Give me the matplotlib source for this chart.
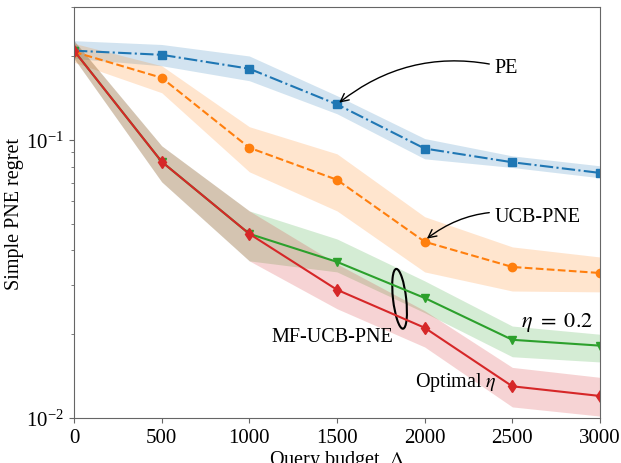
import numpy as np
import matplotlib
matplotlib.use("Agg")
import matplotlib.pyplot as plt
from matplotlib.patches import Ellipse

plt.rcParams['font.family'] = ['Liberation Serif', 'DejaVu Serif']
plt.rcParams['mathtext.fontset'] = 'stix'
plt.rcParams['font.size'] = 14.5

budget = [0, 500, 1000, 1500, 2000, 2500, 3000]

pe = [0.209, 0.202, 0.180, 0.134, 0.093, 0.083, 0.076]
pe_lo = [0.196, 0.1845, 0.163, 0.124, 0.0854, 0.0795, 0.0730]
pe_hi = [0.227, 0.220, 0.200, 0.144, 0.101, 0.0875, 0.0806]

ucb = [0.207, 0.167, 0.0936, 0.0718, 0.0430, 0.0349, 0.0332]
ucb_lo = [0.190, 0.1476, 0.0767, 0.0555, 0.0335, 0.0286, 0.0284]
ucb_hi = [0.222, 0.1845, 0.1114, 0.089, 0.0529, 0.0412, 0.0379]

mf02 = [0.209, 0.0834, 0.0459, 0.0364, 0.0270, 0.0191, 0.0182]
mf02_lo = [0.196, 0.0706, 0.0367, 0.0335, 0.0239, 0.0166, 0.0159]
mf02_hi = [0.227, 0.0951, 0.0555, 0.0440, 0.0311, 0.0214, 0.0200]

mfopt = [0.209, 0.0834, 0.0459, 0.0289, 0.0211, 0.0130, 0.0120]
mfopt_lo = [0.196, 0.0706, 0.0367, 0.0247, 0.0180, 0.01096, 0.01016]
mfopt_hi = [0.227, 0.0951, 0.0555, 0.0358, 0.0243, 0.0152, 0.0140]

fig = plt.figure(figsize=(6.21, 4.64), dpi=100)
ax = fig.add_axes([74 / 621, 45 / 464, 526 / 621, 411 / 464])

ax.fill_between(budget, pe_lo, pe_hi, color='tab:blue', alpha=0.2, lw=0)
ax.plot(budget, pe, '-.', color='tab:blue', marker='s', ms=6)

ax.fill_between(budget, ucb_lo, ucb_hi, color='tab:orange', alpha=0.2, lw=0)
ax.plot(budget, ucb, '--', color='tab:orange', marker='o', ms=6)

ax.fill_between(budget, mf02_lo, mf02_hi, color='tab:green', alpha=0.2, lw=0)
ax.plot(budget, mf02, '-', color='tab:green', marker='v', ms=6)

ax.fill_between(budget, mfopt_lo, mfopt_hi, color='tab:red', alpha=0.2, lw=0)
ax.plot(budget, mfopt, '-', color='tab:red', marker='d', ms=6)

ax.set_yscale('log')
ax.set_xlim(0, 3000)
ax.set_ylim(0.01, 0.30)
ax.set_xticks(budget)
ax.set_xlabel(r'Query budget  $\Lambda$', labelpad=1)
ax.set_ylabel('Simple PNE regret', labelpad=2)

for s in ax.spines.values():
    s.set_color('#666666')
ax.tick_params(which='both', color='#666666', labelcolor='black', labelsize=15)

arrow = dict(arrowstyle='->', color='black', lw=1, connectionstyle='arc3,rad=0.25')
ax.annotate('PE', xy=(1500, 0.134), xytext=(2400, 0.1815), va='center', ha='left',
            arrowprops=arrow)
ax.annotate('UCB-PNE', xy=(2000, 0.0435), xytext=(2400, 0.0529), va='center', ha='left',
            arrowprops=arrow)
ax.text(1472, 0.0197, 'MF-UCB-PNE', ha='center', va='center')
ax.text(2755, 0.0222, r'$\eta\ =\ 0.2$', ha='center', va='center', fontsize=16)
ax.text(2179, 0.0135, r'Optimal $\eta$', ha='center', va='center')

ax.add_patch(Ellipse((0.619, 0.29), 0.025, 0.146, angle=5, transform=ax.transAxes,
                     fill=False, ec='black', lw=1.5))

fig.savefig('out.png', dpi=100)
